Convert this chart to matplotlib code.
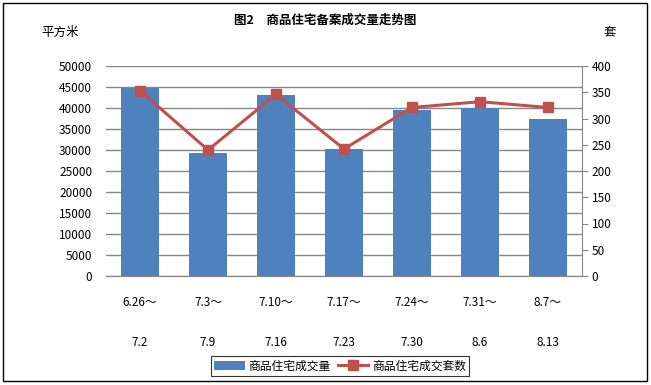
import numpy as np
import matplotlib.pyplot as plt
from matplotlib.patches import Rectangle
from matplotlib.transforms import blended_transform_factory

plt.rcParams['font.family'] = ['Noto Sans CJK SC', 'DejaVu Sans']

# data
period_start = ["6.26～", "7.3～", "7.10～", "7.17～", "7.24～", "7.31～", "8.7～"]
period_end = ["7.2", "7.9", "7.16", "7.23", "7.30", "8.6", "8.13"]
area = [44850, 29300, 43100, 30250, 39500, 39950, 37400]   # 平方米
units = [353, 240, 346, 242, 321, 332, 321]                # 套

bar_color = '#4F81BD'
line_color = '#C0504D'
grid_color = '#868686'

fig = plt.figure(figsize=(6.51, 3.85), dpi=100)
ax = fig.add_axes([106 / 651, 109 / 385, 476 / 651, 210 / 385])
ax2 = ax.twinx()

x = np.arange(len(area))
bars = ax.bar(x, area, width=0.56, color=bar_color, zorder=2, label='商品住宅成交量')
line, = ax2.plot(x, units, color=line_color, lw=2.2, marker='s', ms=7,
                 mec=line_color, mfc=line_color, label='商品住宅成交套数', zorder=3)

ax.set_xlim(-0.5, len(area) - 0.5)
ax.set_ylim(0, 50000)
ax.set_yticks(np.arange(0, 50001, 5000))
ax2.set_ylim(0, 400)
ax2.set_yticks(np.arange(0, 401, 50))
ax.yaxis.grid(True, color=grid_color, lw=1, zorder=0)
ax.set_axisbelow(True)
ax.set_zorder(ax2.get_zorder() - 1)
ax.patch.set_visible(False)

for a in (ax, ax2):
    a.spines['top'].set_visible(False)
    a.spines['left'].set_visible(False)
    a.spines['right'].set_visible(False)
    a.spines['bottom'].set_color(grid_color)
    a.tick_params(labelsize=8.5, colors='black')
ax2.spines['right'].set_visible(True)
ax2.spines['right'].set_color(grid_color)
ax.tick_params(axis='y', length=0, pad=10)
ax2.tick_params(axis='y', length=4, color=grid_color, pad=3)
ax.set_xticks(x)
ax.set_xticklabels([])
ax.tick_params(axis='x', length=0)

tr = blended_transform_factory(ax.transData, fig.transFigure)
for i in x:
    ax.text(i, 1 - 302 / 385, period_start[i], transform=tr, ha='center', va='center', fontsize=8.5)
    ax.text(i, 1 - 342 / 385, period_end[i], transform=tr, ha='center', va='center', fontsize=8.5)

fig.text(325 / 651, 1 - 20 / 385, '图2　商品住宅备案成交量走势图', ha='center', va='center',
         fontsize=9, fontweight='bold')
fig.text(60 / 651, 1 - 32 / 385, '平方米', ha='center', va='center', fontsize=9)
fig.text(610 / 651, 1 - 32 / 385, '套', ha='center', va='center', fontsize=9)

leg = fig.legend(handles=[bars, line], loc='center', bbox_to_anchor=(340 / 651, 1 - 366 / 385),
                 ncol=2, frameon=True, fancybox=False, fontsize=8.5, handlelength=2.6,
                 columnspacing=0.6, handletextpad=0.3, borderpad=0.3, borderaxespad=0)
leg.get_frame().set_edgecolor('black')
leg.get_frame().set_linewidth(0.8)

fig.add_artist(Rectangle((3 / 651, 4 / 385), 644 / 651, 378 / 385, transform=fig.transFigure,
                         fill=False, edgecolor='black', lw=1))

fig.savefig('out.png', dpi=100)
